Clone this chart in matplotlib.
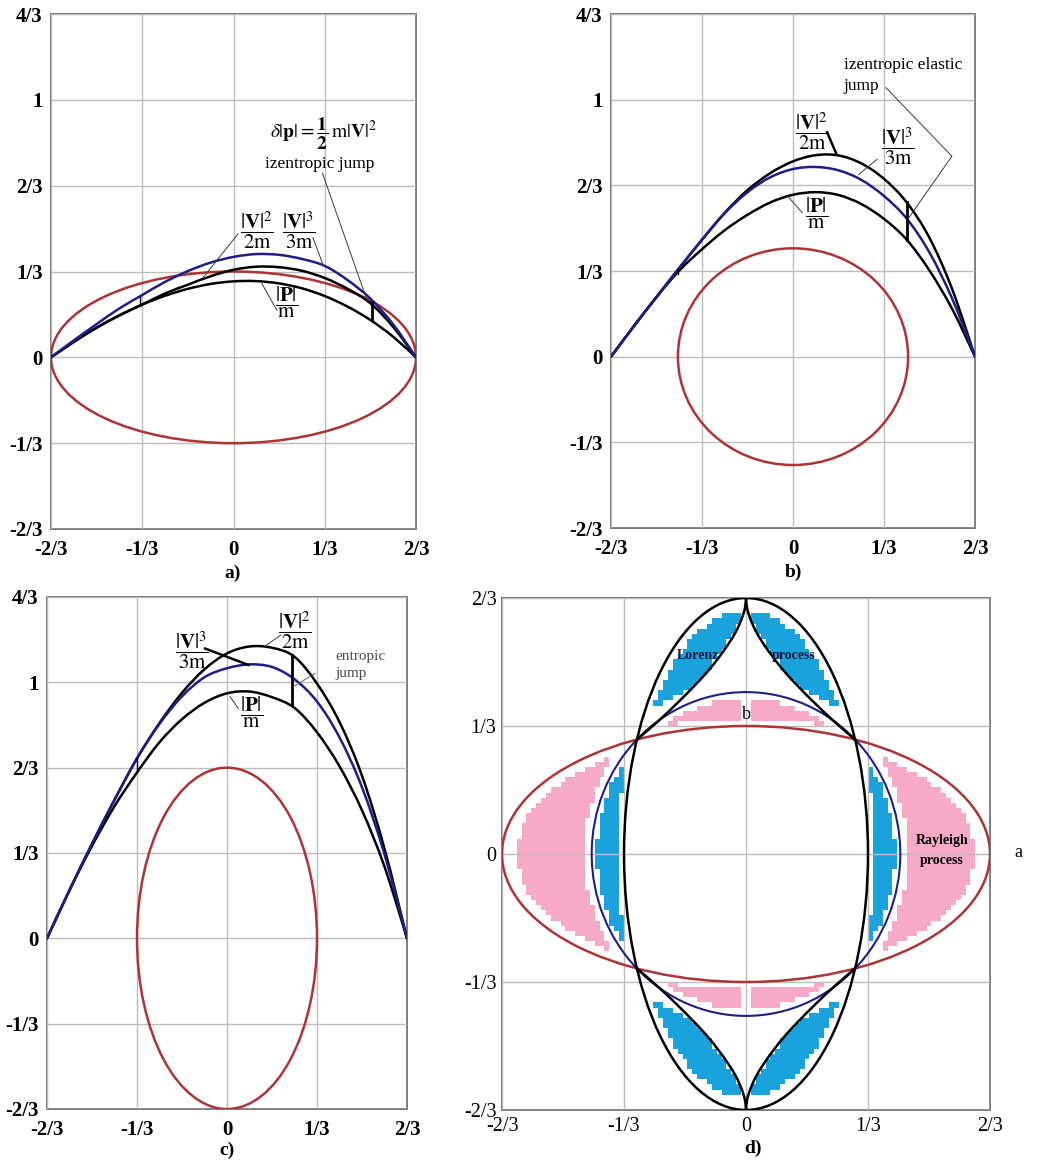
import numpy as np
import matplotlib
matplotlib.use("Agg")
import matplotlib.pyplot as plt
from matplotlib.patches import Ellipse, PathPatch
from matplotlib.path import Path

plt.rcParams["font.family"] = ["Liberation Serif", "DejaVu Serif"]
plt.rcParams["mathtext.fontset"] = "stix"

RED = "#ad3434"
NAVY = "#1e1e8a"
GRID = "#bcbcbc"
FRAME = "#7a7a7a"
PINK = "#f6aac8"
SKY = "#1aa2dd"

# tick positions in thirds
third_ticks = [-2/3, -1/3, 0, 1/3, 2/3, 1, 4/3]
third_labels = ["-2/3", "-1/3", "0", "1/3", "2/3", "1", "4/3"]

# closed curves (semi-axes)
wide_ellipse = (2/3, 1/3)     # Rayleigh ellipse
tall_ellipse = (1/3, 2/3)     # Lorenz ellipse
circle_r = 0.4216

# abscissa of the momentum curves, step 1/12
x_grid = [-8/12, -7/12, -6/12, -5/12, -4/12, -3/12, -2/12, -1/12, 0,
          1/12, 2/12, 3/12, 4/12, 5/12, 6/12, 7/12, 8/12]

# a) |p|/m, |V|^2/2m, |V|^3/3m
a_p = [0, 0.060, 0.115, 0.163, 0.205, 0.239, 0.266, 0.285, 0.295,
       0.296, 0.287, 0.268, 0.238, 0.197, 0.145, 0.080, 0]
a_v2 = [0, 0.060, 0.115, 0.163, 0.205, 0.248, 0.282, 0.315, 0.340,
        0.352, 0.350, 0.336, 0.308, 0.266, 0.210, 0.118, 0]
a_v3 = [0, 0.066, 0.129, 0.190, 0.242, 0.293, 0.335, 0.368, 0.390,
        0.401, 0.398, 0.382, 0.355, 0.300, 0.228, 0.128, 0]

# b)
b_p = [0, 0.118, 0.232, 0.335, 0.418, 0.492, 0.552, 0.600, 0.630,
       0.640, 0.629, 0.594, 0.536, 0.455, 0.335, 0.185, 0]
b_v2 = [0, 0.118, 0.232, 0.345, 0.455, 0.560, 0.648, 0.714, 0.760,
        0.784, 0.783, 0.752, 0.692, 0.600, 0.462, 0.262, 0]
b_v3 = [0, 0.118, 0.232, 0.345, 0.455, 0.558, 0.640, 0.698, 0.730,
        0.738, 0.725, 0.688, 0.625, 0.537, 0.405, 0.225, 0]

# c)
c_p = [0, 0.188, 0.361, 0.516, 0.648, 0.766, 0.856, 0.920, 0.957,
       0.964, 0.942, 0.900, 0.805, 0.672, 0.500, 0.280, 0]
c_v2 = [0, 0.188, 0.369, 0.541, 0.703, 0.841, 0.959, 1.051, 1.113,
        1.140, 1.135, 1.100, 0.995, 0.845, 0.635, 0.350, 0]
c_v3 = [0, 0.188, 0.369, 0.541, 0.703, 0.838, 0.945, 1.020, 1.055,
        1.070, 1.060, 1.012, 0.925, 0.785, 0.590, 0.328, 0]

# jumps: (x, lower, upper)
a_jump = (0.505, 0.145, 0.213)
b_jump = (0.4175, 0.455, 0.600)
c_jump = (0.240, 0.910, 1.105)
a_split = (-0.34, 0.200, 0.236)
b_split = (-0.42, 0.322, 0.345)
c_split = (-1/3, 0.648, 0.703)

# d) cusp curve of the Lorenz process, first quadrant
cusp_x = [0, 0.003, 0.012, 0.027, 0.048, 0.075, 0.107, 0.146, 0.191, 0.241, 0.298]
cusp_y = [0.667, 0.640, 0.612, 0.580, 0.547, 0.511, 0.473, 0.433, 0.390, 0.345, 0.298]

V2_LABEL = r"$\dfrac{|\mathbf{V}|^2}{2\mathrm{m}}$"
V3_LABEL = r"$\dfrac{|\mathbf{V}|^3}{3\mathrm{m}}$"
P_LABEL = r"$\dfrac{|\mathbf{P}|}{\mathrm{m}}$"


def setup_frame(ax, ymin, ymax, bold=True, ypad=6, xpad=8, size=15):
    ax.set_xlim(-2/3, 2/3)
    ax.set_ylim(ymin, ymax)
    ax.set_xticks(third_ticks[:5])
    ax.set_xticklabels(third_labels[:5])
    ys = [(t, l) for t, l in zip(third_ticks, third_labels) if ymin - 1e-9 <= t <= ymax + 1e-9]
    ax.set_yticks([t for t, _ in ys])
    ax.set_yticklabels([l for _, l in ys])
    ax.tick_params(axis="y", length=0, labelsize=size, pad=ypad)
    ax.tick_params(axis="x", length=0, labelsize=size, pad=xpad)
    if bold:
        for lab in ax.get_xticklabels() + ax.get_yticklabels():
            lab.set_fontweight("bold")
    ax.grid(True, color=GRID, lw=1.0)
    ax.set_axisbelow(False)
    for s in ax.spines.values():
        s.set_color(FRAME)
        s.set_linewidth(1.4)


def smooth_line(ax, xs, ys, **kw):
    # Catmull-Rom through the sampled points, drawn as cubic Bezier segments
    pts = np.column_stack([xs, ys]).astype(float)
    ext = np.vstack([pts[0], pts, pts[-1]])
    verts = [pts[0]]
    codes = [Path.MOVETO]
    for i in range(len(pts) - 1):
        p0, p1, p2, p3 = ext[i], ext[i + 1], ext[i + 2], ext[i + 3]
        verts += [p1 + (p2 - p0) / 6, p2 - (p3 - p1) / 6, p2]
        codes += [Path.CURVE4] * 3
    ax.add_patch(PathPatch(Path(verts, codes), fill=False, capstyle="round",
                           joinstyle="round", **kw))


def closed_curve(ax, semi, color, lw=1.8, z=3):
    ax.add_patch(Ellipse((0, 0), 2 * semi[0], 2 * semi[1], fill=False,
                         edgecolor=color, lw=lw, zorder=z))


def momentum_curves(ax, p, v2, v3, jump, split):
    smooth_line(ax, x_grid, p, edgecolor="black", lw=1.8, zorder=4)
    smooth_line(ax, x_grid, v2, edgecolor="black", lw=1.8, zorder=4)
    smooth_line(ax, x_grid, v3, edgecolor=NAVY, lw=1.8, zorder=5)
    ax.plot([jump[0], jump[0]], [jump[1], jump[2]], color="black", lw=2.0, zorder=6)
    ax.plot([split[0], split[0]], [split[1], split[2]], color="black", lw=1.0, zorder=6)


def leader(ax, pts, lw=0.7, color="#3a3a3a"):
    xs = [q[0] for q in pts]
    ys = [q[1] for q in pts]
    ax.plot(xs, ys, color=color, lw=lw, zorder=7)


def panel_a(ax):
    setup_frame(ax, -2/3, 4/3)
    closed_curve(ax, wide_ellipse, RED)
    momentum_curves(ax, a_p, a_v2, a_v3, a_jump, a_split)
    ax.text(0.328, 0.868, r"$\delta|\mathbf{p}| = \mathbf{\dfrac{1}{2}}\,\mathrm{m}|\mathbf{V}|^2$",
            ha="center", va="center", fontsize=14)
    ax.text(0.316, 0.752, "izentropic jump", ha="center", va="center", fontsize=12.5)
    leader(ax, [(0.325, 0.715), (0.488, 0.221)])
    ax.text(0.084, 0.496, V2_LABEL, ha="center", va="center", fontsize=15)
    leader(ax, [(0.017, 0.48), (-0.111, 0.31)])
    ax.text(0.240, 0.496, V3_LABEL, ha="center", va="center", fontsize=15)
    leader(ax, [(0.29, 0.465), (0.328, 0.357)])
    ax.text(0.195, 0.212, P_LABEL, ha="center", va="center", fontsize=15)
    leader(ax, [(0.159, 0.182), (0.104, 0.286)])


def panel_b(ax):
    setup_frame(ax, -2/3, 4/3)
    closed_curve(ax, (circle_r, circle_r), RED)
    momentum_curves(ax, b_p, b_v2, b_v3, b_jump, b_split)
    ax.text(0.186, 1.136, "izentropic elastic", ha="left", va="center", fontsize=12.5)
    ax.text(0.186, 1.052, "jump", ha="left", va="center", fontsize=12.5)
    leader(ax, [(0.34, 1.047), (0.582, 0.78), (0.424, 0.54)])
    ax.text(0.068, 0.877, V2_LABEL, ha="center", va="center", fontsize=15)
    leader(ax, [(0.125, 0.873), (0.16, 0.786)], lw=1.8, color="black")
    ax.text(0.386, 0.818, V3_LABEL, ha="center", va="center", fontsize=15)
    leader(ax, [(0.308, 0.768), (0.241, 0.709)])
    ax.text(0.085, 0.56, P_LABEL, ha="center", va="center", fontsize=15)
    leader(ax, [(0.034, 0.56), (-0.02, 0.625)])


def panel_c(ax):
    setup_frame(ax, -2/3, 4/3)
    closed_curve(ax, tall_ellipse, RED)
    momentum_curves(ax, c_p, c_v2, c_v3, c_jump, c_split)
    ax.text(-0.131, 1.126, V3_LABEL, ha="center", va="center", fontsize=15)
    leader(ax, [(-0.081, 1.132), (0.079, 1.068)], lw=1.8, color="black")
    ax.text(0.252, 1.204, V2_LABEL, ha="center", va="center", fontsize=15)
    leader(ax, [(0.2, 1.185), (0.147, 1.146)])
    ax.text(0.091, 0.885, P_LABEL, ha="center", va="center", fontsize=15)
    leader(ax, [(0.042, 0.898), (0.011, 0.944)])
    ax.text(0.40, 1.10, "entropic", ha="left", va="center", fontsize=11, color="#4a4a4a")
    ax.text(0.40, 1.035, "jump", ha="left", va="center", fontsize=11, color="#4a4a4a")
    leader(ax, [(0.326, 1.035), (0.246, 0.983)], color="#666666")


def process_map(n=100):
    # colour cells of the Rayleigh (pink) and Lorenz (blue) regions
    edge = 2/3
    c = np.linspace(-edge, edge, n + 1)
    c = 0.5 * (c[1:] + c[:-1])
    X, Y = np.meshgrid(c, c)
    ax_, ay_ = abs(X), abs(Y)
    r_red = np.hypot(X / wide_ellipse[0], Y / wide_ellipse[1])
    r_blk = np.hypot(X / tall_ellipse[0], Y / tall_ellipse[1])
    r_cir = np.hypot(X, Y) / circle_r
    cusp_edge = np.interp(ay_, cusp_y[::-1], cusp_x[::-1])

    pink = ((r_red < 0.94) & (r_cir > 1.05)) | \
           ((r_cir < 0.96) & (r_red > 1.06) & (ax_ > 0.012))
    blue = ((r_cir < 0.97) & (r_blk > 1.05)) | \
           ((r_blk < 0.95) & (r_cir > 1.08) & (ay_ > 0.3) & (ax_ > cusp_edge + 0.004))

    img = np.ones((n, n, 4))
    img[..., 3] = 0
    img[pink] = (*matplotlib.colors.to_rgb(PINK), 1)
    img[blue] = (*matplotlib.colors.to_rgb(SKY), 1)
    return img


def panel_d(ax):
    setup_frame(ax, -2/3, 2/3, bold=False, ypad=4, xpad=5, size=14.5)
    ax.imshow(process_map(), extent=[-2/3, 2/3, -2/3, 2/3], origin="lower",
              interpolation="nearest", aspect="auto", zorder=1)
    closed_curve(ax, wide_ellipse, RED, lw=1.8)
    closed_curve(ax, (circle_r, circle_r), NAVY, lw=1.5)
    closed_curve(ax, tall_ellipse, "black", lw=1.8, z=4)
    for sx in (-1, 1):
        for sy in (-1, 1):
            smooth_line(ax, [sx * v for v in cusp_x], [sy * v for v in cusp_y],
                        edgecolor="black", lw=1.8, zorder=4)
    ax.text(-0.13, 0.518, "Lorenz", ha="center", va="center", fontsize=10,
            fontweight="bold", color="#1a1a40", zorder=6)
    ax.text(0.129, 0.518, "process", ha="center", va="center", fontsize=10,
            fontweight="bold", color="#1a1a40", zorder=6)
    ax.text(0.535, 0.035, "Rayleigh", ha="center", va="center", fontsize=10,
            fontweight="bold", zorder=6)
    ax.text(0.535, -0.018, "process", ha="center", va="center", fontsize=10,
            fontweight="bold", zorder=6)
    ax.text(0.0, 0.362, "b", ha="center", va="center", fontsize=13, zorder=6)
    ax.text(0.745, 0.005, "a", ha="center", va="center", fontsize=13, clip_on=False)


fig = plt.figure(figsize=(10.48, 11.6), dpi=100)
W, H = 1048, 1160


def box(l, r, t, b):
    return [l / W, 1 - b / H, (r - l) / W, (b - t) / H]


ax_a = fig.add_axes(box(51, 416, 14, 529))
ax_b = fig.add_axes(box(611, 975, 14, 528))
ax_c = fig.add_axes(box(47, 407, 597, 1109))
ax_d = fig.add_axes(box(502, 990, 598, 1110))

panel_a(ax_a)
panel_b(ax_b)
panel_c(ax_c)
panel_d(ax_d)

for lab, (px, py) in zip(["a)", "b)", "c)", "d)"],
                         [(233, 573), (793, 572), (227, 1150), (753, 1148)]):
    fig.text(px / W, 1 - py / H, lab, ha="center", va="center",
             fontsize=14, fontweight="bold")

fig.savefig("out.png", dpi=100)
